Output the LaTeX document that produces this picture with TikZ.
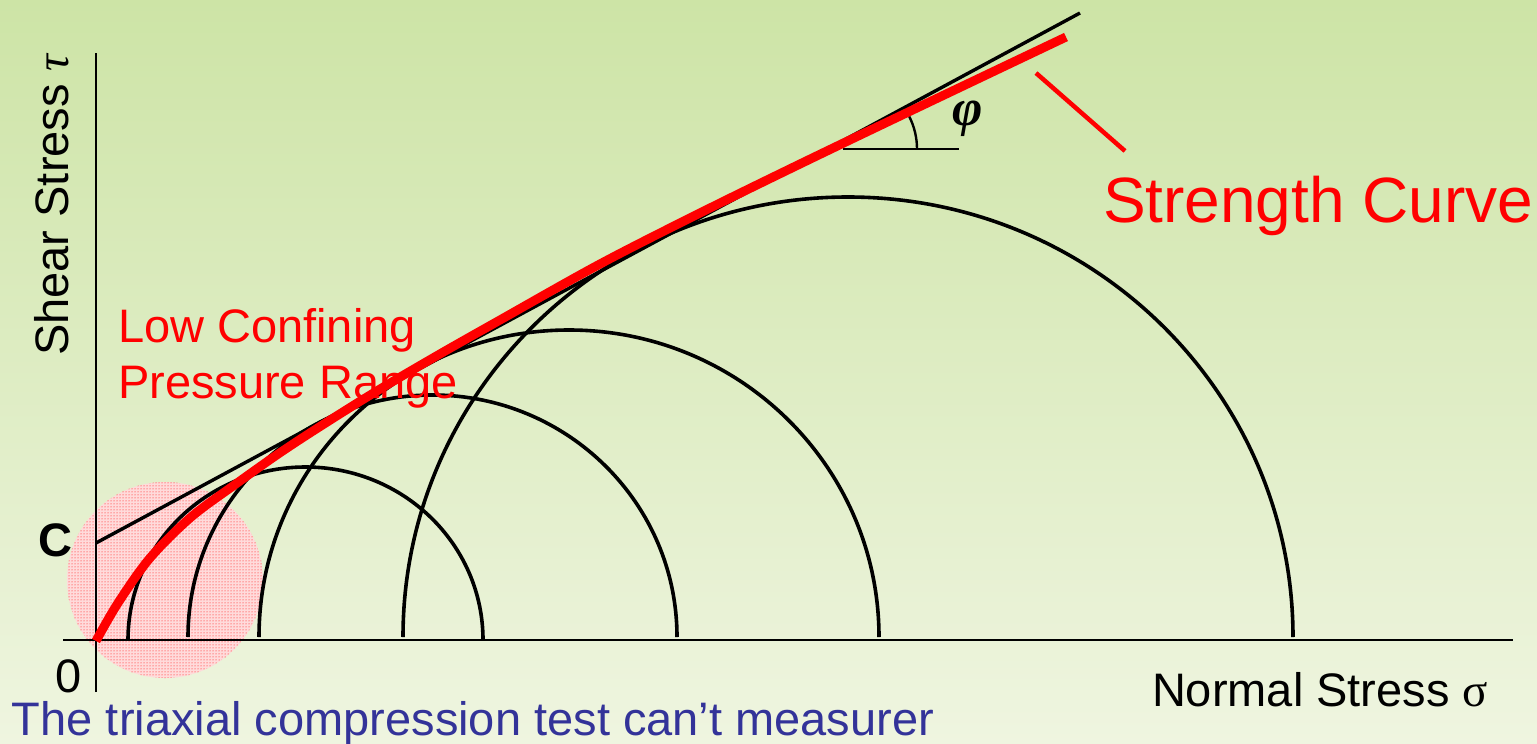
\documentclass[tikz,border=0pt]{standalone}
\usepackage{fontspec}
\setmainfont{Liberation Sans}
\newfontfamily\serifgr{Liberation Serif}
\usetikzlibrary{patterns}
\definecolor{bgtop}{RGB}{205,228,166}
\definecolor{bgbot}{RGB}{239,245,224}
\definecolor{txtblue}{RGB}{51,51,153}
\definecolor{pureRed}{RGB}{255,0,0}
\tikzset{
  axisline/.style={line width=2.6pt, black},
  mohr/.style={line width=3.6pt, black},
  tangent/.style={line width=3.4pt, black},
  strength/.style={line width=9pt, pureRed},
  leader/.style={line width=4.5pt, pureRed},
  lbl/.style={inner sep=0pt, outer sep=0pt, font=\fontsize{47}{56}\selectfont},
}
\begin{document}
\begin{tikzpicture}[x=1pt,y=-1pt]
\useasboundingbox (0,0) rectangle (1537,744);
\shade[top color=bgtop, bottom color=bgbot] (0,0) rectangle (1537,744);

% pink dotted region
\fill[pureRed!14] (165,580) circle[radius=98];
\fill[pattern=dots, pattern color=pureRed] (165,580) circle[radius=98];

% axes
\coordinate (yTop) at (96,53);
\coordinate (yBot) at (96,692);
\coordinate (xLeft) at (63,640);
\coordinate (xRight) at (1513,640);
\draw[axisline] (yBot) -- (yTop);
\draw[axisline] (xLeft) -- (xRight);

% Mohr circles
\draw[mohr] (128,640) arc[start angle=180, end angle=360, x radius=177.5, y radius=173];
\draw[mohr] (188,637) arc[start angle=180, end angle=360, x radius=244.5, y radius=242];
\draw[mohr] (259,637) arc[start angle=180, end angle=360, x radius=310, y radius=307];
\draw[mohr] (403,637) arc[start angle=180, end angle=360, x radius=445, y radius=440];

% tangent envelope
\coordinate (cInt) at (96,543);
\coordinate (tEnd) at (1080,13);
\draw[tangent] (cInt) -- (tEnd);

% angle marker
\coordinate (aStart) at (843,149);
\coordinate (aEnd) at (959,149);
\draw[line width=2.4pt] (aStart) -- (aEnd);
\draw[line width=2.4pt] (917,149) arc[start angle=0, end angle=-27, radius=72];
\node[inner sep=0pt, font=\fontsize{52}{56}\selectfont\serifgr\bfseries\itshape] (phiLbl) at (968,119) {φ};

% strength curve
\draw[strength] plot[smooth, tension=0.55] coordinates {(96,641) (118,603) (150,558) (190,518) (233,486) (290,446) (367,397) (433,358) (500,320) (600,264) (700,213) (800,164) (900,116) (1066,37)};

% leader
\coordinate (ldA) at (1036,73);
\coordinate (ldB) at (1125,151);
\draw[leader] (ldA) -- (ldB);

% labels
\node[lbl, pureRed, anchor=base west, font=\fontsize{64}{70}\selectfont] (sc) at (1103,222) {Strength Curve};
\node[lbl, pureRed, anchor=base west] (low1) at (118,342) {Low Confining};
\node[lbl, pureRed, anchor=base west] (low2) at (118,398) {Pressure Range};
\node[lbl, rotate=90, anchor=base] (ylab) at (68,205) {Shear Stress {\serifgr\itshape τ}};
\node[lbl, anchor=base west] (xlab) at (1152,706) {Normal Stress {\serifgr σ}};
\node[lbl, anchor=base, font=\fontsize{47}{56}\selectfont\bfseries] (cl) at (55,556) {C};
\node[lbl, anchor=base] (zero) at (69,692) {0};
\node[lbl, txtblue, anchor=base west] (note) at (12,735) {The triaxial compression test can’t measurer};
\end{tikzpicture}
\end{document}
